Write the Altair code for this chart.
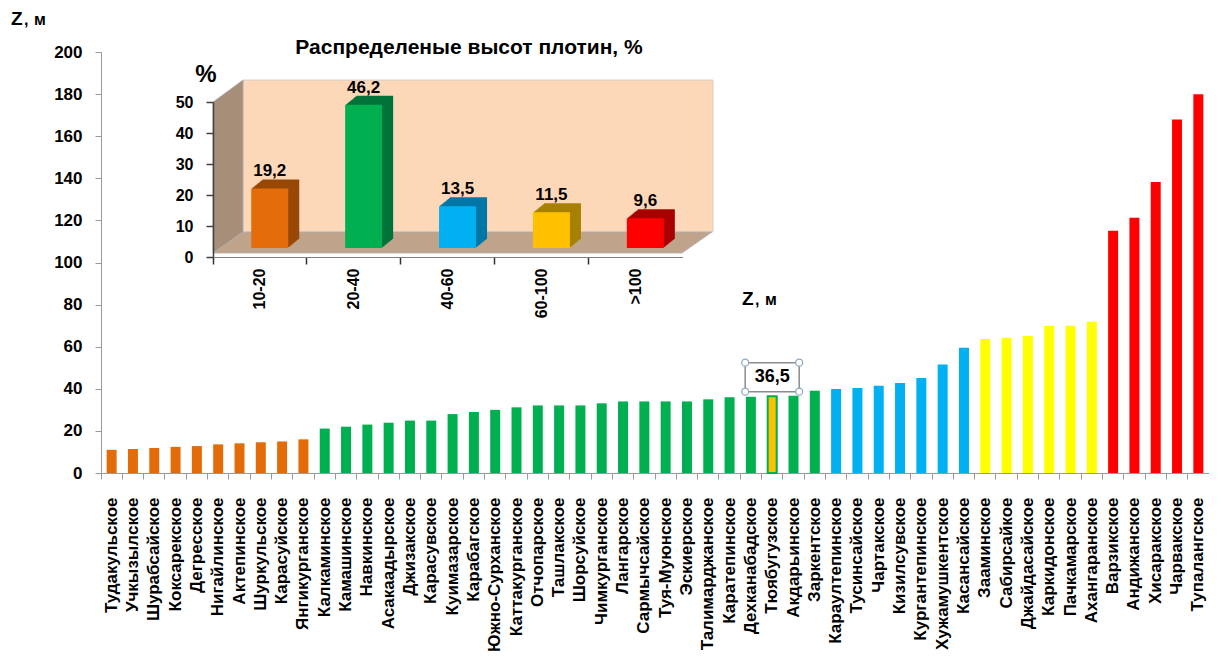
import altair as alt
import pandas as pd

FONT = "Liberation Sans"

# ---------------- data ----------------
names = [
    "Тудакульское", "Учкызылское", "Шурабсайское", "Коксарекское", "Дегресское",
    "Нигайлинское", "Актепинское", "Шуркульское", "Карасуйское", "Янгикурганское",
    "Калкаминское", "Камашинское", "Навкинское", "Асакаадырское", "Джизакское",
    "Карасувское", "Куимазарское", "Карабагское", "Южно-Сурханское", "Каттакурганское",
    "Отчопарское", "Ташлакское", "Шорсуйское", "Чимкурганское", "Лангарское",
    "Сармычсайское", "Туя-Муюнское", "Эскиерское", "Талимарджанское", "Каратепинское",
    "Дехканабадское", "Тюябугузское", "Акдарьинское", "Заркентское", "Караултепинское",
    "Тусинсайское", "Чартакское", "Кизилсувское", "Кургантепинское", "Хужамушкентское",
    "Касансайское", "Зааминское", "Сабирсайкое", "Джайдасайское", "Каркидонское",
    "Пачкамарское", "Ахангаранское", "Варзикское", "Андижанское", "Хисаракское",
    "Чарвакское", "Тупалангское",
]
heights = [
    11.0, 11.4, 11.9, 12.4, 12.8, 13.6, 14.1, 14.6, 15.0, 16.0,
    21.1, 22.0, 23.0, 23.9, 24.9, 24.9, 28.0, 29.0, 30.0, 31.2,
    32.1, 32.1, 32.1, 33.1, 34.0, 34.0, 34.0, 34.0, 35.0, 36.0,
    36.2, 36.5, 36.7, 39.1, 39.9, 40.4, 41.5, 42.8, 45.1, 51.5,
    59.5, 63.7, 64.2, 65.1, 70.0, 70.0, 71.9, 115.1, 121.2, 138.2,
    167.9, 179.9,
]
group_names = ["10-20", "20-40", "40-60", "60-100", ">100"]
group_counts = [10, 24, 7, 6, 5]
share_pct = [19.2, 46.2, 13.5, 11.5, 9.6]
highlight_name = "Тюябугузское"
y_ticks = [0, 20, 40, 60, 80, 100, 120, 140, 160, 180, 200]
inset_ticks = [0, 10, 20, 30, 40, 50]

main_colors = ["#E36C09", "#00B050", "#00B0F0", "#FFFF00", "#FF0000"]
inset_colors = ["#E46C0A", "#00B050", "#00B0F0", "#FFC000", "#FF0000"]
inset_side = ["#984807", "#00733A", "#0077A6", "#A88000", "#A80000"]

groups = [g for g, c in zip(group_names, group_counts) for _ in range(c)]
main_df = pd.DataFrame({"name": names, "z": heights, "group": groups})
main_df["label"] = main_df["z"].map(lambda v: f"{v:.1f}".replace(".", ","))
inset_df = pd.DataFrame({"range": group_names, "pct": share_pct})
inset_df["label"] = inset_df["pct"].map(lambda v: f"{v:.1f}".replace(".", ","))
one = pd.DataFrame({"k": [0]})

# ---------------- layout ----------------
W, H = 1108, 421

# ---------------- main chart ----------------
x_main = alt.X(
    "name:N", sort=names,
    scale=alt.Scale(paddingInner=0, paddingOuter=0),
    axis=alt.Axis(
        title=None, labelAngle=270, labelAlign="right", labelBaseline="middle",
        labelFontSize=17, labelFont=FONT, labelFontWeight="bold", labelColor="black",
        labelPadding=18, bandPosition=0, tickSize=6, tickColor="#999999",
        domainColor="#999999", labelOverlap=False, labelLimit=400, labelBound=False,
    ),
)
y_main = alt.Y(
    "z:Q",
    scale=alt.Scale(domain=[0, 200], nice=False),
    axis=alt.Axis(
        title=None, values=y_ticks, grid=False, labelFontSize=17, labelFont=FONT,
        labelFontWeight="bold", labelColor="black", labelPadding=13, tickSize=6,
        tickColor="#999999", domainColor="#999999",
    ),
)
color_main = alt.Color("group:N", scale=alt.Scale(domain=group_names, range=main_colors), legend=None)

base = alt.Chart(main_df)
bars = base.mark_bar(size=10).encode(x=x_main, y=y_main, color=color_main)
hl = base.transform_filter(alt.datum.name == highlight_name)
hl_bar = hl.mark_bar(size=9, fill="#FFC000", stroke="#00B050", strokeWidth=2).encode(x=x_main, y=y_main)
box = hl.mark_point(
    shape="M-27,-14.5L27,-14.5L27,14.5L-27,14.5Z", size=4, filled=True, fill="white",
    stroke="#8C8C8C", strokeWidth=1.5, opacity=1, yOffset=-19,
).encode(x=x_main, y=y_main)
circ = lambda cx, cy, r=3.5: f"M{cx + r},{cy}A{r},{r} 0 1,0 {cx - r},{cy}A{r},{r} 0 1,0 {cx + r},{cy}Z"
handles = hl.mark_point(
    shape="".join(circ(cx, cy) for cx in (-27, 27) for cy in (-14.5, 14.5)),
    size=4, filled=True, fill="white", stroke="#8FA8C8", strokeWidth=1.3, opacity=1, yOffset=-19,
).encode(x=x_main, y=y_main)
hl_text = hl.mark_text(
    font=FONT, fontSize=18, fontWeight="bold", color="black", baseline="middle", yOffset=-19,
).encode(x=x_main, y=y_main, text="label:N")

main = alt.layer(bars, hl_bar, box, handles, hl_text)

# ---------------- inset chart ----------------
x_in = alt.X(
    "range:N", sort=group_names,
    scale=alt.Scale(range=[112, 581.5], paddingInner=0, paddingOuter=0),
    axis=alt.Axis(
        title=None, orient="bottom", offset=205 - H, labelAngle=270, labelAlign="right",
        labelBaseline="middle", labelFontSize=16, labelFontWeight="bold", labelFont=FONT,
        labelColor="black", labelPadding=4, bandPosition=0,
        tickSize=7, tickColor="#303030", tickWidth=1.5, domainColor="#808080",
        labelOverlap=False, zindex=1,
    ),
)
y_in = alt.Y(
    "pct:Q",
    scale=alt.Scale(domain=[0, 50], range=[205, 50], nice=False),
    axis=alt.Axis(
        title=None, orient="left", offset=-112, values=inset_ticks, grid=False,
        labelFontSize=16, labelFontWeight="bold", labelFont=FONT, labelColor="black",
        labelPadding=13, tickSize=7, tickColor="#404040", tickWidth=1.5,
        domainColor="#404040", domainWidth=1.5, zindex=1,
    ),
)

deco = alt.Chart(one)
back_wall = deco.mark_rect(fill="#FDD8B8", stroke="#C8C8C8", strokeWidth=0.8).encode(
    x=alt.value(142), x2=alt.value(612), y=alt.value(28), y2=alt.value(180)
)
floor = deco.mark_point(
    shape="M0,0L469,0L499,-21L30,-21Z", size=4, filled=True, fill="#C0A38B",
    stroke="#B0B0B0", strokeWidth=0.8, opacity=1,
).encode(x=alt.value(112), y=alt.value(201))
left_wall = deco.mark_point(
    shape="M0,0L0,-151L30,-173L30,-21Z", size=4, filled=True, fill="#A68E79",
    stroke="#B0B0B0", strokeWidth=0.8, opacity=1,
).encode(x=alt.value(112), y=alt.value(201))

ib = alt.Chart(inset_df)
ext_layers = []
for k in range(10, 0, -1):
    ext_layers.append(
        ib.mark_bar(size=37, xOffset=9.8 + 1.1 * k, yOffset=-9 - 0.9 * k).encode(
            x=x_in, y=y_in,
            color=alt.Color("range:N", scale=alt.Scale(domain=group_names, range=inset_side), legend=None),
        )
    )
front = ib.mark_bar(size=37, xOffset=9.8, yOffset=-9).encode(
    x=x_in, y=y_in,
    color=alt.Color("range:N", scale=alt.Scale(domain=group_names, range=inset_colors), legend=None),
)
in_labels = ib.mark_text(
    font=FONT, fontSize=17, fontWeight="bold", color="black", baseline="middle",
    xOffset=9.8, yOffset=-26,
).encode(x=x_in, y=y_in, text="label:N")


def txt(s, x, y, size, weight="bold", align="left", baseline="alphabetic"):
    return deco.mark_text(
        text=s, font=FONT, fontSize=size, fontWeight=weight, align=align,
        baseline=baseline, color="black",
    ).encode(x=alt.value(x), y=alt.value(y))


titles = [
    txt("Распределеные высот плотин, %", 368, -4, 21, align="center", baseline="middle"),
    txt("%", 105, 23, 24, weight="bold", align="center", baseline="middle"),
    txt("Z", -90, -27, 19),
    txt(",", -77, -27, 16),
    txt("м", -67, -27, 16),
    txt("Z", 641, 253, 19),
    txt(",", 654, 253, 16),
    txt("м", 664, 253, 16),
]

inset = alt.layer(back_wall, floor, left_wall, *ext_layers, front, in_labels, *titles).resolve_scale(color="independent")

chart = (
    alt.layer(main, inset)
    .resolve_scale(x="independent", y="independent", color="independent")
    .resolve_axis(x="independent", y="independent")
    .properties(
        width=W, height=H,
        autosize=alt.AutoSizeParams(type="none"),
        padding={"left": 93, "top": 44, "right": 0, "bottom": 180},
        background="white",
    )
    .configure_view(stroke=None)
)

chart.save("out.html", embed_options={"renderer": "svg", "actions": False})
